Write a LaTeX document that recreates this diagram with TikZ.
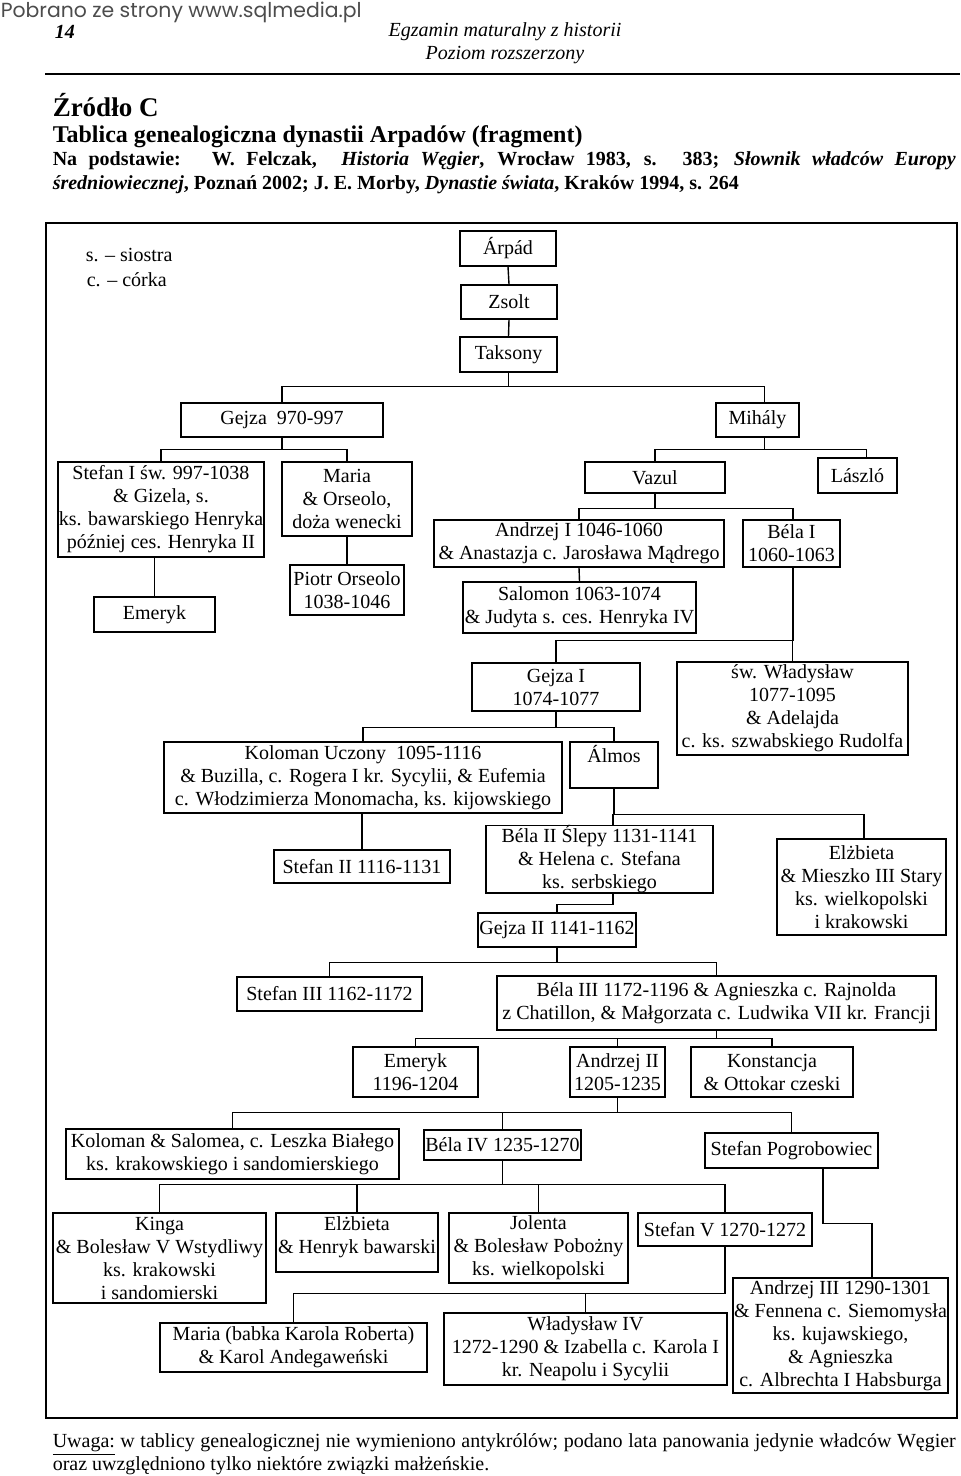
\documentclass[tikz,border=0pt]{standalone}
\usepackage{fontspec}
\setmainfont{Liberation Serif}
\newfontfamily\stronafont{Poppins}

\tikzset{every picture/.style={line width=0.75pt}}
\tikzset{
  osoba/.style={draw, align=center, inner sep=0pt, font=\fontsize{10}{11.5}\selectfont},
  napis/.style={inner sep=0pt, font=\fontsize{10}{11.5}\selectfont},
  galaz/.style={line width=0.7pt},
}

\begin{document}
\begin{tikzpicture}[x=0.5pt,y=0.5pt,yscale=-1]
	\useasboundingbox (0,0) rectangle (960,1476);

	% Header
	\node[napis, anchor=west, text=black!70, font=\stronafont\fontsize{10.2}{12}\selectfont] (strona) at (0,12) {Pobrano ze strony www.sqlmedia.pl};
	\node[napis, anchor=west, font=\fontsize{10}{12}\selectfont\bfseries\itshape] (nrstrony) at (54,32) {14};
	\node[napis, font=\fontsize{10}{12}\selectfont\itshape] (egzamin) at (505,32) {Egzamin maturalny z historii};
	\node[napis, font=\fontsize{10}{12}\selectfont\itshape] (poziom) at (505,55) {Poziom rozszerzony};
	\draw [line width=1.2pt] (45,74) -- (960,74) ;

	\node[napis, anchor=west, font=\fontsize{13.5}{15}\selectfont\bfseries] (zrodlo) at (52,105) {Źródło C};
	\node[napis, anchor=west, font=\fontsize{12}{13}\selectfont\bfseries] (tytul) at (52,137) {Tablica genealogiczna dynastii Arpadów (fragment)};
	\node[napis, anchor=north west, font=\fontsize{10}{12}\selectfont\bfseries] (podstawa) at (52,151) {\parbox{451.5pt}{Na podstawie:~ W. Felczak, ~\textit{Historia Węgier}, Wrocław 1983, s. 383; \textit{Słownik władców Europy}\linebreak \textit{średniowiecznej}, Poznań 2002; J. E. Morby, \textit{Dynastie świata}, Kraków 1994, s. 264}};

	%Shape: Rectangle (frame)
	\draw [line width=0.6pt] (46,223) rectangle (957,1418) ;

	% Legend
	\node[napis, anchor=west] (legs) at (85,255) {s. -- siostra};
	\node[napis, anchor=west] (legc) at (86,280) {c. -- córka};

	% Text Node
	\node[osoba, minimum width=48pt, minimum height=17.5pt] (arpad) at (508,248.5) {Árpád};
	\node[osoba, minimum width=48pt, minimum height=17pt] (zsolt) at (509,302) {Zsolt};
	\node[osoba, minimum width=48.5pt, minimum height=17.5pt] (taksony) at (508.5,354.5) {Taksony};
	\node[osoba, minimum width=101pt, minimum height=17pt] (gejza) at (282,420) {Gejza~~970-997};
	\node[osoba, minimum width=41.5pt, minimum height=17pt] (mihaly) at (757.5,420) {Mihály};

	\node[osoba, minimum width=103pt, minimum height=47.5pt] (stefanI) at (161,509.5) {Stefan I św. 997-1038\\ \& Gizela, s.\\ ks. bawarskiego Henryka\\ później ces. Henryka II};
	\node[osoba, minimum width=65pt, minimum height=37pt] (maria) at (347,499) {Maria\\ \& Orseolo,\\ doża wenecki};
	\node[osoba, minimum width=60.5pt, minimum height=17.5pt] (emerykI) at (154.5,614.5) {Emeryk};
	\node[osoba, minimum width=57pt, minimum height=25pt] (piotr) at (347,590) {Piotr Orseolo\\ 1038-1046};
	\node[osoba, minimum width=70pt, minimum height=15.5pt] (vazul) at (655,477.5) {Vazul};
	\node[osoba, minimum width=39.5pt, minimum height=17.5pt] (laszlo) at (857.5,475.5) {László};
	\node[osoba, minimum width=145pt, minimum height=23.5pt] (andrzejI) at (579,543.5) {Andrzej I 1046-1060\\ \& Anastazja c. Jarosława Mądrego};
	\node[osoba, minimum width=48.5pt, minimum height=23.5pt] (belaI) at (791.5,543.5) {Béla I\\ 1060-1063};
	\node[osoba, minimum width=116.5pt, minimum height=25.5pt] (salomon) at (579.5,607.5) {Salomon 1063-1074\\ \& Judyta s. ces. Henryka IV};

	\node[osoba, minimum width=84pt, minimum height=24pt] (gejzaI) at (556,687) {Gejza I\\ 1074-1077};
	\node[osoba, minimum width=115.5pt, minimum height=46.5pt] (wladyslaw) at (792.5,708.5) {św. Władysław\\ 1077-1095\\ \& Adelajda\\ c. ks. szwabskiego Rudolfa};
	\node[osoba, minimum width=199pt, minimum height=35.5pt] (koloman) at (363,777.5) {Koloman Uczony~~1095-1116\\ \& Buzilla, c. Rogera I kr. Sycylii, \& Eufemia\\ c. Włodzimierza Monomacha, ks. kijowskiego};
	\node[osoba, minimum width=44pt, minimum height=23pt] (almos) at (614,765) {Álmos\\ \mbox{}};

	\node[osoba, minimum width=88pt, minimum height=16.5pt] (stefanII) at (362,866.5) {Stefan II 1116-1131};
	\node[osoba, minimum width=113.5pt, minimum height=33pt] (belaII) at (599.5,859) {Béla II Ślepy 1131-1141\\ \& Helena c. Stefana\\ ks. serbskiego};
	\node[osoba, minimum width=84.5pt, minimum height=48pt] (elzbietaI) at (861.5,887) {Elżbieta\\ \& Mieszko III Stary\\ ks. wielkopolski\\ i krakowski};
	\node[osoba, minimum width=79pt, minimum height=17pt] (gejzaII) at (557,930) {Gejza II 1141-1162};

	\node[osoba, minimum width=92.5pt, minimum height=17pt] (stefanIII) at (329.5,994) {Stefan III 1162-1172};
	\node[osoba, minimum width=219.5pt, minimum height=27pt] (belaIII) at (716.5,1003) {Béla III 1172-1196 \& Agnieszka c. Rajnolda\\ z Chatillon, \& Małgorzata c. Ludwika VII kr. Francji};
	\node[osoba, minimum width=62.5pt, minimum height=25pt] (emerykII) at (415.5,1072) {Emeryk\\ 1196-1204};
	\node[osoba, minimum width=47.5pt, minimum height=25pt] (andrzejII) at (617.5,1072) {Andrzej II\\ 1205-1235};
	\node[osoba, minimum width=81pt, minimum height=25pt] (konstancja) at (772,1072) {Konstancja\\ \& Ottokar czeski};

	\node[osoba, minimum width=166.5pt, minimum height=25pt] (kolsal) at (232.5,1154) {Koloman \& Salomea, c. Leszka Białego\\ ks. krakowskiego i sandomierskiego};
	\node[osoba, minimum width=78.5pt, minimum height=15pt] (belaIV) at (502.5,1145) {Béla IV 1235-1270};
	\node[osoba, minimum width=86.5pt, minimum height=17.5pt] (pogrob) at (791.5,1150.5) {Stefan Pogrobowiec};

	\node[osoba, minimum width=106.5pt, minimum height=45pt] (kinga) at (159.5,1258) {Kinga\\ \& Bolesław V Wstydliwy\\ ks. krakowski\\ i sandomierski};
	\node[osoba, minimum width=81pt, minimum height=29.5pt] (elzbietaII) at (357,1242.5) {Elżbieta\\ \& Henryk bawarski\\[-4.5pt]\mbox{}};
	\node[osoba, minimum width=89.5pt, minimum height=35pt] (jolenta) at (538.5,1248) {Jolenta\\ \& Bolesław Pobożny\\ ks. wielkopolski};
	\node[osoba, minimum width=87pt, minimum height=16.5pt] (stefanV) at (725,1229.5) {Stefan V 1270-1272};
	\node[osoba, minimum width=107.5pt, minimum height=57.5pt] (andrzejIII) at (840.5,1335.5) {Andrzej III 1290-1301\\ \& Fennena c. Siemomysła\\ ks. kujawskiego,\\ \& Agnieszka\\ c. Albrechta I Habsburga};
	\node[osoba, minimum width=133.5pt, minimum height=24.5pt] (mariaII) at (293.5,1347.5) {Maria (babka Karola Roberta)\\ \& Karol Andegaweński};
	\node[osoba, minimum width=141.5pt, minimum height=36pt] (wladyslawIV) at (585.5,1349) {Władysław IV\\ 1272-1290 \& Izabella c. Karola I\\ kr. Neapolu i Sycylii};

	%Straight Lines
	\draw [galaz] (arpad.south) -- (zsolt.north) ;
	\draw [galaz] (zsolt.south) -- (taksony.north) ;
	\draw [galaz] (taksony.south) -- ++(0,14) -| (gejza.north) ;
	\draw [galaz] (taksony.south) -- ++(0,14) -| ([xshift=3.5pt]mihaly.north) ;
	\draw [galaz] (gejza.south) -- ++(0,12) -| (stefanI.north) ;
	\draw [galaz] (gejza.south) -- ++(0,12) -| (maria.north) ;
	\draw [galaz] (emerykI.north) -- (emerykI.north |- stefanI.south) ;
	\draw [galaz] (maria.south) -- (piotr.north) ;
	\draw [galaz] ([xshift=3.5pt]mihaly.south) -- ++(0,12) -| (vazul.north) ;
	\draw [galaz] ([xshift=3.5pt]mihaly.south) -- ++(0,12) -| ([xshift=4.5pt]laszlo.north) ;
	\draw [galaz] (vazul.south) -- ++(0,15) -| (andrzejI.north) ;
	\draw [galaz] (vazul.south) -- ++(0,15) -| ([xshift=0.75pt]belaI.north) ;
	\draw [galaz] (andrzejI.south) -- (salomon.north) ;
	\draw [galaz] ([xshift=0.75pt]belaI.south) -- ++(0,73) -| (gejzaI.north) ;
	\draw [galaz] ([xshift=0.75pt]belaI.south) -- ++(0,73) -| (wladyslaw.north) ;
	\draw [galaz] (gejzaI.south) -- ++(0,16) -| (koloman.north) ;
	\draw [galaz] (gejzaI.south) -- ++(0,16) -| (almos.north) ;
	\draw [galaz] (stefanII.north) -- (stefanII.north |- koloman.south) ;
	\draw [galaz] (almos.south) -- ++(0,26) -| ([xshift=6.75pt]belaII.north) ;
	\draw [galaz] (almos.south) -- ++(0,26) -| ([xshift=1.25pt]elzbietaI.north) ;
	\draw [galaz] ([xshift=6.75pt]belaII.south) -- ++(0,11) -| (gejzaII.north) ;
	\draw [galaz] (gejzaII.south) -- ++(0,15) -| (stefanIII.north) ;
	\draw [galaz] (gejzaII.south) -- ++(0,15) -| (belaIII.north) ;
	\draw [galaz] (belaIII.south) -- ++(0,8) -| (emerykII.north) ;
	\draw [galaz] (belaIII.south) -- ++(0,8) -| (andrzejII.north) ;
	\draw [galaz] (belaIII.south) -- ++(0,8) -| (konstancja.north) ;
	\draw [galaz] (andrzejII.south) -- ++(0,15) -| (kolsal.north) ;
	\draw [galaz] (andrzejII.south) -- ++(0,15) -| (belaIV.north) ;
	\draw [galaz] (andrzejII.south) -- ++(0,15) -| (pogrob.north) ;
	\draw [galaz] (belaIV.south) -- ++(0,24) -| (kinga.north) ;
	\draw [galaz] (belaIV.south) -- ++(0,24) -| (elzbietaII.north) ;
	\draw [galaz] (belaIV.south) -- ++(0,24) -| (jolenta.north) ;
	\draw [galaz] (belaIV.south) -- ++(0,24) -| (stefanV.north) ;
	\draw [galaz] ([xshift=15.75pt]pogrob.south) -- ++(0,55) -| ([xshift=15.75pt]andrzejIII.north) ;
	\draw [galaz] (stefanV.south) -- ++(0,47) -| (mariaII.north) ;
	\draw [galaz] (stefanV.south) -- ++(0,47) -| (wladyslawIV.north) ;

	% Footer
	\node[napis, anchor=north west] (uwaga) at (52,1433) {\parbox{451.5pt}{\underline{Uwaga:} w tablicy genealogicznej nie wymieniono antykrólów; podano lata panowania jedynie władców Węgier\linebreak oraz uwzględniono tylko niektóre związki małżeńskie.}};

\end{tikzpicture}
\end{document}
